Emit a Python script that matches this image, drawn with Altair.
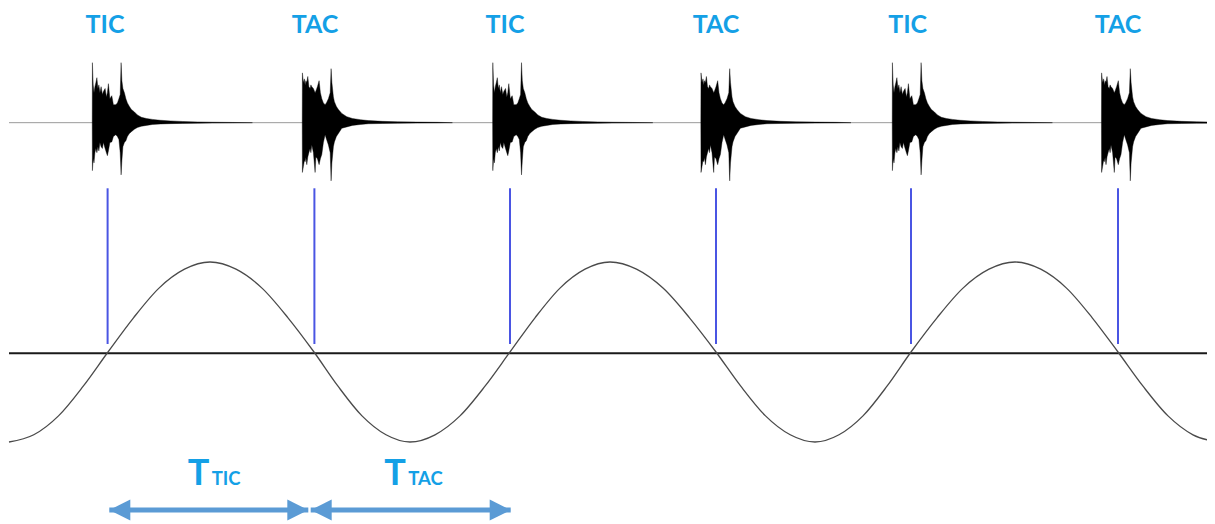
import altair as alt
import pandas as pd

# ---------------- data (x: time in ms, y: diagram units, sine amplitude = 1) ----------------
X_DOMAIN = [250, 3247.5]
Y_DOMAIN = [-1.9111, 3.8222]

labels = ["TIC", "TAC", "TIC", "TAC", "TIC", "TAC"]
label_t = [492.5, 1017.5, 1492.5, 2020, 2499, 3025]
beat_t = [499, 1016, 1505, 2020, 2507.5, 3025]
onset_t = [461, 986, 1462, 1982.5, 2461, 2984]

# recorded sound envelopes (offset from onset in ms, relative amplitude above / below)
tic_off = [0, 2, 4, 6.25, 8.75, 11.25, 13.75, 16.25, 18.75, 21.75, 25, 27.5, 31.75, 35, 37.5,
           40, 43.75, 48.5, 52.5, 58.5, 62.5, 66.25, 69.5, 71.75, 73.75, 76.25, 80, 83.75, 87.5,
           92.5, 97.5, 105, 112.5, 122.5, 135, 150, 170, 195, 225, 262.5, 300, 350, 400]
tic_up = [1.00, .63, .50, .60, .67, .75, .57, .63, .50, .60, .47, .52, .57, .43, .50, .65, .40,
          .45, .30, .30, .33, .40, .47, 1.00, .70, .57, .50, .40, .33, .27, .22, .18, .13, .09,
          .07, .055, .04, .03, .02, .013, .008, .004, 0]
tic_low = [.80, .60, .67, .50, .43, .50, .40, .47, .33, .40, .43, .33, .43, .50, .55, .47, .33,
           .32, .23, .20, .23, .28, .50, .87, .63, .40, .33, .30, .23, .18, .15, .11, .08, .06,
           .045, .03, .022, .016, .012, .009, .006, .004, 0]

tac_off = [0, 2.5, 5, 6.75, 8.75, 11, 13.5, 16.25, 19.25, 21.25, 23.5, 27.5, 31.75, 33.75, 37.5,
           41.75, 45, 48.5, 52.5, 56.75, 60, 65, 69.5, 71.75, 73.75, 77.5, 80, 85, 90, 98.5, 111,
           125, 145, 165, 200, 237.5, 287.5, 337.5, 375]
tac_up = [.83, .67, .73, .63, .70, .67, .77, .60, .57, .63, .60, .57, .50, .53, .60, .70, .50,
          .40, .33, .30, .33, .40, .50, .90, .67, .43, .35, .27, .22, .155, .10, .07, .05, .035,
          .022, .015, .01, .006, 0]
tac_low = [.83, .73, .63, .65, .58, .70, .57, .50, .43, .50, .37, .50, .83, .57, .60, .70, .60,
           .53, .33, .20, .27, .37, .50, .97, .67, .40, .32, .23, .18, .093, .07, .045, .03,
           .018, .013, .01, .006, .004, 0]

# pendulum sine curve
sine_t = [252.5, 314.4, 376.25, 438.1, 500, 563.75, 627.5, 691.25, 755, 820, 885, 950, 1015,
          1075, 1135, 1195, 1255, 1317.5, 1380, 1442.5, 1505, 1567.5, 1630, 1692.5, 1755,
          1821.25, 1887.5, 1953.75, 2020, 2081.9, 2143.75, 2205.6, 2267.5, 2327.5, 2387.5,
          2447.5, 2507.5, 2572.5, 2637.5, 2702.5, 2767.5, 2831.9, 2896.25, 2960.6, 3025,
          3087.5, 3150, 3212.5, 3275]
sine_v = [-1, -.92, -.71, -.38, 0, .38, .71, .92, 1, .92, .71, .38, 0, -.38, -.71, -.92,
          -1, -.92, -.71, -.38, 0, .38, .71, .92, 1, .92, .71, .38, 0, -.38, -.71, -.92,
          -1, -.92, -.71, -.38, 0, .38, .71, .92, 1, .92, .71, .38, 0, -.38, -.71, -.92, -1]

# period arrows
arrow_start = [503.25, 1006.75]
arrow_end = [1000.75, 1506.75]
period_sub = ["TIC", "TAC"]
period_T_t = [726.25, 1217.5]
period_sub_t = [759.25, 1250.75]

# levels (diagram units)
WAVE_BASE = 2.548
WAVE_SCALE = 0.6667
LABEL_Y = 3.5444
BEAT_TOP, BEAT_BOTTOM = 1.819, 0.089
AXIS_Y = -0.015
PERIOD_LABEL_Y = -1.478
ARROW_Y = -1.756
LINE_START, LINE_END = 252.5, 3267.5

# ---------------- tables ----------------
rows = []
for i, (lab, on) in enumerate(zip(labels, onset_t)):
    off, up, low = (tic_off, tic_up, tic_low) if lab == "TIC" else (tac_off, tac_up, tac_low)
    rows.append({"burst": i, "t": on - 0.4, "y": WAVE_BASE, "y2": WAVE_BASE})
    for o, u, l in zip(off, up, low):
        rows.append({"burst": i, "t": on + o,
                     "y": WAVE_BASE + u * WAVE_SCALE, "y2": WAVE_BASE - l * WAVE_SCALE})
wave_df = pd.DataFrame(rows)

beats_df = pd.DataFrame({"t": beat_t, "y": BEAT_TOP, "y2": BEAT_BOTTOM})
labels_df = pd.DataFrame({"t": label_t, "label": labels, "y": LABEL_Y})
sine_df = pd.DataFrame({"t": sine_t, "v": sine_v})
lines_df = pd.DataFrame({"t": [LINE_START], "t2": [LINE_END], "base": [WAVE_BASE], "axis": [AXIS_Y]})
arrows_df = pd.DataFrame({"s": arrow_start, "e": arrow_end, "y": ARROW_Y})
period_df = pd.DataFrame({"tT": period_T_t, "tS": period_sub_t, "sub": period_sub,
                          "T": "T", "y": PERIOD_LABEL_Y})

xs = alt.Scale(domain=X_DOMAIN, nice=False, zero=False)
ys = alt.Scale(domain=Y_DOMAIN, nice=False, zero=False)

def X(f):
    return alt.X(f, type="quantitative", scale=xs, axis=None)

def Y(f):
    return alt.Y(f, type="quantitative", scale=ys, axis=None)

TXT = "#14a0e6"
ARROW = "#5b9bd5"
FONT = "Lato"

baseline = alt.Chart(lines_df).mark_rule(color="#9a9a9a", strokeWidth=1, clip=True).encode(
    x=X("t"), x2="t2", y=Y("base"))
axis_line = alt.Chart(lines_df).mark_rule(color="#1a1a1a", strokeWidth=2, clip=True).encode(
    x=X("t"), x2="t2", y=Y("axis"))
wave = alt.Chart(wave_df).mark_area(color="black", interpolate="linear", clip=True,
                                    stroke="black", strokeWidth=0.4).encode(
    x=X("t"), y=Y("y"), y2="y2", detail="burst:N")
beats = alt.Chart(beats_df).mark_rule(color="#4a55e3", strokeWidth=2).encode(
    x=X("t"), y=Y("y"), y2="y2")
sine = alt.Chart(sine_df).mark_line(color="#4a4a4a", strokeWidth=1.3, interpolate="monotone",
                                    clip=True).encode(x=X("t"), y=Y("v"))
top_labels = alt.Chart(labels_df).mark_text(font=FONT, fontSize=25, fontWeight="bold", color=TXT,
                                            align="center", baseline="alphabetic").encode(
    x=X("t"), y=Y("y"), text="label:N")
shafts = alt.Chart(arrows_df).mark_rule(color=ARROW, strokeWidth=5).encode(
    x=X("s"), x2="e", y=Y("y"))
head_l = alt.Chart(arrows_df).mark_point(shape="M0,0L2,-1L2,1Z", size=441, filled=True,
                                         color=ARROW, opacity=1, strokeWidth=0).encode(
    x=X("s"), y=Y("y"))
head_r = alt.Chart(arrows_df).mark_point(shape="M0,0L-2,-1L-2,1Z", size=441, filled=True,
                                         color=ARROW, opacity=1, strokeWidth=0).encode(
    x=X("e"), y=Y("y"))
big_T = alt.Chart(period_df).mark_text(font=FONT, fontSize=36, fontWeight="bold", color=TXT,
                                       align="center", baseline="alphabetic").encode(
    x=X("tT"), y=Y("y"), text="T:N")
sub_T = alt.Chart(period_df).mark_text(font=FONT, fontSize=18.5, fontWeight="bold", color=TXT,
                                       align="left", baseline="alphabetic").encode(
    x=X("tS"), y=Y("y"), text="sub:N")

chart = alt.layer(
    baseline, axis_line, sine, beats, wave, top_labels, shafts, head_l, head_r, big_T, sub_T
).properties(
    width=1199, height=516, padding=0, background="white",
    autosize=alt.AutoSizeParams(type="none")
).configure_view(strokeWidth=0)

chart.save("out.html", embed_options={"renderer": "svg", "actions": False})
